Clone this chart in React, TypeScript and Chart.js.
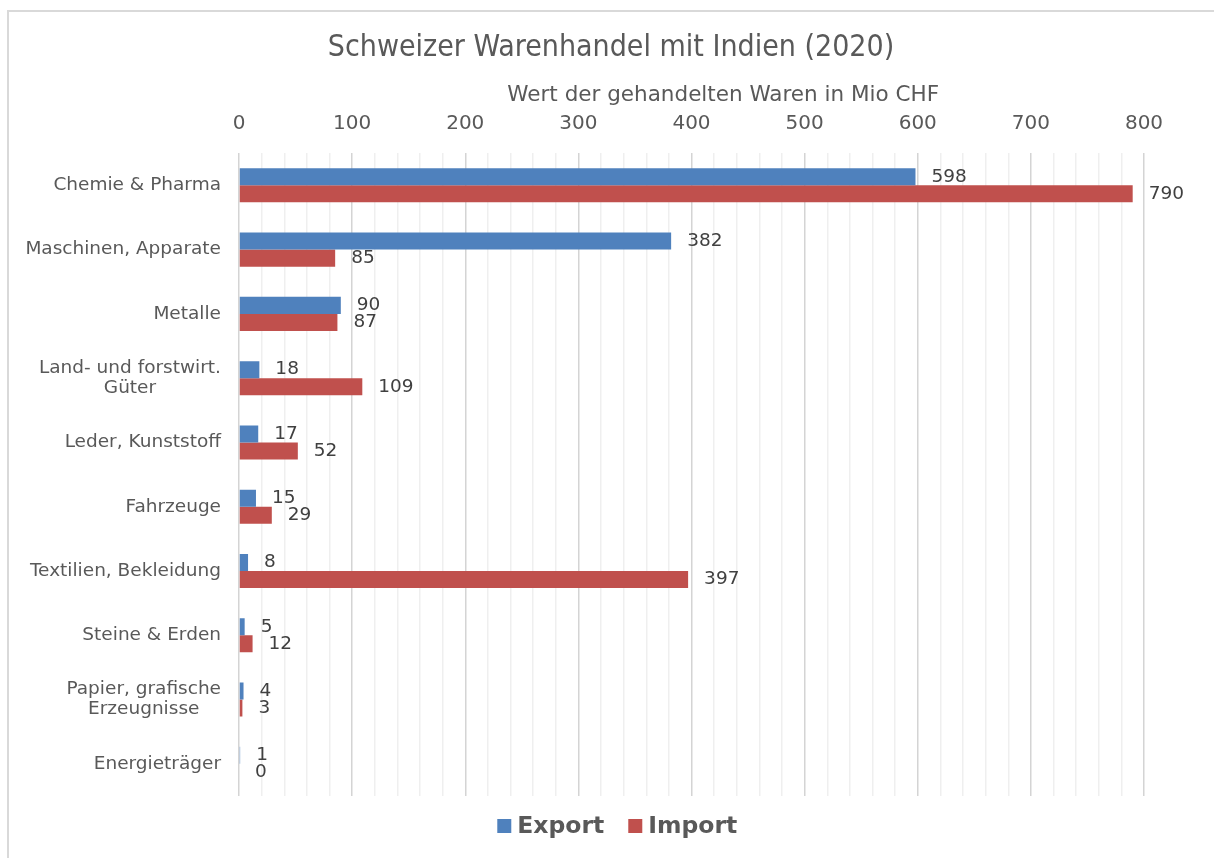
import React, { useEffect, useRef } from "react";
import { Chart, registerables } from "chart.js";

Chart.register(...registerables);

const categories: string[][] = [
  ["Chemie & Pharma"],
  ["Maschinen, Apparate"],
  ["Metalle"],
  ["Land- und forstwirt.", "Güter"],
  ["Leder, Kunststoff"],
  ["Fahrzeuge"],
  ["Textilien, Bekleidung"],
  ["Steine & Erden"],
  ["Papier, grafische", "Erzeugnisse"],
  ["Energieträger"],
];
const exportValues = [598, 382, 90, 18, 17, 15, 8, 5, 4, 1];
const importValues = [790, 85, 87, 109, 52, 29, 397, 12, 3, 0];
const xTickLabels = [0, 100, 200, 300, 400, 500, 600, 700, 800];
const seriesNames = ["Export", "Import"];
const seriesColors = ["#4F81BD", "#C0504D"];
const chartTitle = "Schweizer Warenhandel mit Indien (2020)";
const axisTitle = "Wert der gehandelten Waren in Mio CHF";

const FONT = "'DejaVu Sans', Verdana, sans-serif";
const TITLE_FONT = "'DejaVu Sans Condensed', 'DejaVu Sans', sans-serif";
const TEXT = "#595959";

const framePlugin = {
  id: "frame",
  beforeDraw(chart: any) {
    const { ctx, width, height } = chart;
    ctx.save();
    ctx.fillStyle = "#ffffff";
    ctx.fillRect(0, 0, width, height);
    ctx.strokeStyle = "#d9d9d9";
    ctx.lineWidth = 2;
    ctx.beginPath();
    ctx.moveTo(8, height + 5);
    ctx.lineTo(8, 11);
    ctx.lineTo(width + 5, 11);
    ctx.stroke();
    ctx.restore();
  },
};

const labelsPlugin = {
  id: "customLabels",
  afterDraw(chart: any) {
    const { ctx, chartArea, width } = chart;
    const yScale = chart.scales.y;
    const xScale = chart.scales.x;
    ctx.save();
    // chart title
    ctx.font = `30px ${TITLE_FONT}`;
    ctx.fillStyle = TEXT;
    ctx.textBaseline = "middle";
    ctx.textAlign = "center";
    ctx.fillText(chartTitle, width / 2 + 4, 48);
    // category labels (right aligned block, multi-line centered)
    ctx.font = `18.5px ${FONT}`;
    const lh = 20;
    categories.forEach((lines, i) => {
      const y = yScale.getPixelForTick(i);
      const maxW = Math.max(...lines.map((l) => ctx.measureText(l).width));
      const cx = chartArea.left - 18 - maxW / 2;
      lines.forEach((l, j) => {
        ctx.fillText(l, cx, y + (j - (lines.length - 1) / 2) * lh);
      });
    });
    // axis title
    ctx.font = `21.5px ${FONT}`;
    ctx.fillText(axisTitle, chartArea.left + chartArea.width * 0.535, xScale.top + 32);
    // data labels
    ctx.font = `18.5px ${FONT}`;
    ctx.fillStyle = "#404040";
    ctx.textAlign = "left";
    chart.data.datasets.forEach((ds: any, di: number) => {
      const meta = chart.getDatasetMeta(di);
      meta.data.forEach((el: any, i: number) => {
        ctx.fillText(String(ds.data[i]), el.x + 16, el.y);
      });
    });
    // legend
    ctx.font = `bold 23.5px ${FONT}`;
    const box = 14;
    const gapText = 6;
    const gapItem = 24;
    const items = chart.data.datasets.map((ds: any) => ({
      text: ds.label,
      color: ds.backgroundColor,
      w: ctx.measureText(ds.label).width,
    }));
    const total =
      items.reduce((s: number, it: any) => s + box + gapText + it.w, 0) + gapItem * (items.length - 1);
    let x = chartArea.left + chartArea.width * 0.418 - total / 2;
    const ly = chartArea.bottom + 30;
    items.forEach((it: any) => {
      ctx.fillStyle = it.color;
      ctx.fillRect(x, ly - box / 2, box, box);
      x += box + gapText;
      ctx.fillStyle = TEXT;
      ctx.fillText(it.text, x, ly + 1);
      x += it.w + gapItem;
    });
    ctx.restore();
  },
};

export default function App() {
  const ref = useRef<HTMLCanvasElement | null>(null);
  useEffect(() => {
    document.body.style.margin = "0";
    const canvas = ref.current!;
    const chart = new Chart(canvas, {
      type: "bar",
      data: {
        labels: categories.map((c) => c.join(" ")),
        datasets: [
          {
            label: seriesNames[0],
            data: exportValues,
            backgroundColor: seriesColors[0],
            categoryPercentage: 0.53,
            barPercentage: 1,
          },
          {
            label: seriesNames[1],
            data: importValues,
            backgroundColor: seriesColors[1],
            categoryPercentage: 0.53,
            barPercentage: 1,
          },
        ],
      },
      options: {
        indexAxis: "y",
        responsive: false,
        animation: false,
        layout: { padding: { left: 0, right: 70, top: 0, bottom: 62 } },
        scales: {
          x: {
            position: "top",
            min: xTickLabels[0],
            max: xTickLabels[xTickLabels.length - 1],
            afterFit(scale: any) {
              scale.height = 90;
            },
            ticks: {
              stepSize: 20,
              autoSkip: false,
              maxRotation: 0,
              padding: 17,
              color: TEXT,
              font: { family: FONT, size: 20 },
              callback: (v: any) => (xTickLabels.includes(Number(v)) ? String(v) : ""),
            },
            grid: {
              drawTicks: false,
              lineWidth: 1.5,
              color: (c: any) =>
                c.tick && xTickLabels.includes(c.tick.value) ? "#d4d4d4" : "#efefef",
            },
            border: { display: false },
          },
          y: {
            afterFit(scale: any) {
              scale.width = 239;
            },
            ticks: { color: "rgba(0,0,0,0)", font: { family: FONT, size: 18.5 } },
            grid: { display: false },
            border: { display: false },
          },
        },
        plugins: {
          title: {
            display: true,
            text: chartTitle,
            color: "rgba(0,0,0,0)",
            font: { family: TITLE_FONT, size: 26, weight: "normal" },
            padding: { top: 32, bottom: 0 },
          },
          legend: { display: false },
          tooltip: { enabled: false },
        },
      },
      plugins: [framePlugin, labelsPlugin],
    } as any);
    return () => chart.destroy();
  }, []);
  return (
    <div style={{ width: 1214, height: 858 }}>
      <canvas ref={ref} width={1214} height={858} style={{ display: "block" }} />
    </div>
  );
}
